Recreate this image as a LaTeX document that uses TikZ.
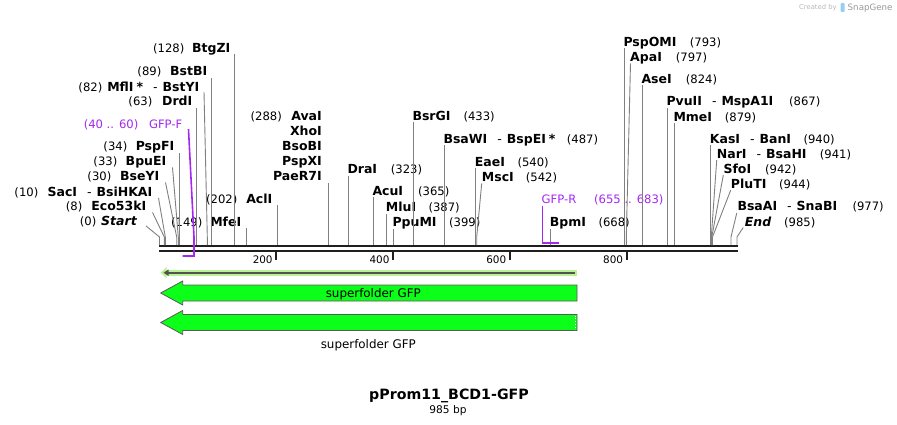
\documentclass[tikz,border=0pt]{standalone}
\usepackage{fontspec}
\setmainfont{DejaVu Sans}
\usetikzlibrary{positioning,arrows.meta,calc}
\definecolor{primerpurple}{RGB}{164,40,240}
\definecolor{featgreen}{RGB}{12,255,24}
\definecolor{halogreen}{RGB}{184,242,146}
\definecolor{logoblue}{RGB}{150,205,240}
\newcommand\sitefont{\fontsize{11.6}{13}\selectfont}
\newcommand\namefont{\fontsize{12.5}{14}\selectfont\bfseries}
\newcommand\orsep{\hspace{0.8em}{\mdseries -}\hspace{0.4em}}

\begin{document}
\begin{tikzpicture}[
  x=1pt, y=-1pt,
  font=\sitefont,
  >=Stealth,
  sitename/.style={inner sep=0pt, font=\namefont},
  sitepos/.style={inner sep=0pt, font=\sitefont},
  primertext/.style={inner sep=0pt, font=\sitefont, text=primerpurple},
  cutline/.style={draw=black!50, line width=0.9pt},
  primerline/.style={draw=primerpurple, line width=1.6pt, line join=miter},
  backbone/.style={draw=black!88, line width=2.3pt},
  tickmark/.style={draw=black!88, line width=2.2pt},
  featarrow/.style={draw=black!65, fill=featgreen, line width=0.8pt, line join=miter},
  featlabel/.style={inner sep=0pt, font=\fontsize{11.9}{14}\selectfont}
]
  \useasboundingbox (0,0) rectangle (897,425);

  % backbone and ruler
  \draw[backbone] (159.3,246.3) -- (737.7,246.3);
  \draw[backbone] (159.3,251) -- (737.7,251);
  \foreach \p in {200,400,600,800} {
    \draw[tickmark] ({159.5+0.584*\p},252) -- ({159.5+0.584*\p},260);
    \node[inner sep=0pt, anchor=base east, font=\fontsize{10.4}{12}\selectfont] (t\p) at ({156+0.584*\p},263.1) {\p};
  }

  % sites on the backbone
  \coordinate (sStart) at (159.5,245);
  \coordinate (sEco) at (164.3,245);
  \coordinate (sSacI) at (165.3,245);
  \coordinate (sBseYI) at (176.7,245);
  \coordinate (sBpuEI) at (178.3,245);
  \coordinate (sPspFI) at (179.3,245);
  \coordinate (sDrdI) at (196.3,245);
  \coordinate (sMflI) at (207.3,245);
  \coordinate (sBstBI) at (211.3,245);
  \coordinate (sBtgZI) at (234.3,245);
  \coordinate (sMfeI) at (246.6,245);
  \coordinate (sAclI) at (277.3,245);
  \coordinate (sAvaI) at (328.3,245);
  \coordinate (sDraI) at (348.3,245);
  \coordinate (sAcuI) at (373.3,245);
  \coordinate (sMluI) at (386.7,245);
  \coordinate (sPpuMI) at (393.3,245);
  \coordinate (sBsrGI) at (413.3,245);
  \coordinate (sBsaWI) at (444.3,245);
  \coordinate (sEaeI) at (475.7,245);
  \coordinate (sMscI) at (476.7,245);
  \coordinate (sBpmI) at (550.7,245);
  \coordinate (sPspOMI) at (624.3,245);
  \coordinate (sApaI) at (626.3,245);
  \coordinate (sAseI) at (642.3,245);
  \coordinate (sPvuII) at (667.3,245);
  \coordinate (sMmeI) at (674.3,245);
  \coordinate (sKasI) at (710.7,245);
  \coordinate (sNarI) at (711.3,245);
  \coordinate (sSfoI) at (711.8,245);
  \coordinate (sPluTI) at (712.5,245);
  \coordinate (sBsaAI) at (731,245);
  \coordinate (sEnd) at (737,245);

  % left-hand labels
  \node[sitename, anchor=base east] (nStart) at (137,225.9) {\itshape Start};
  \node[sitepos, anchor=base east] (pStart) at (96.5,225.9) {(0)};
  \node[sitename, anchor=base east] (nEco) at (146.5,210.9) {Eco53kI};
  \node[sitepos, anchor=base east] (pEco) at (82.5,210.9) {(8)};
  \node[sitename, anchor=base east] (nSacI) at (152.5,196.5) {SacI\orsep BsiHKAI};
  \node[sitepos, anchor=base east] (pSacI) at (38.5,196.5) {(10)};
  \node[sitename, anchor=base east] (nBseYI) at (159.5,180.9) {BseYI};
  \node[sitepos, anchor=base east] (pBseYI) at (111.5,180.9) {(30)};
  \node[sitename, anchor=base east] (nBpuEI) at (166.5,165.9) {BpuEI};
  \node[sitepos, anchor=base east] (pBpuEI) at (117.5,165.9) {(33)};
  \node[sitename, anchor=base east] (nPspFI) at (174.5,150.9) {PspFI};
  \node[sitepos, anchor=base east] (pPspFI) at (127.5,150.9) {(34)};
  \node[primertext, anchor=base east] (nGFPF) at (182.5,128.2) {GFP-F};
  \node[primertext, anchor=base east] (pGFPF) at (138.5,128.2) {(40 .. 60)};
  \node[sitename, anchor=base east] (nDrdI) at (192.5,105.9) {DrdI};
  \node[sitepos, anchor=base east] (pDrdI) at (152.5,105.9) {(63)};
  \node[sitename, anchor=base east] (nMflI) at (199.5,91.5) {MflI\hspace{3pt}*\orsep BstYI};
  \node[sitepos, anchor=base east] (pMflI) at (102.5,91.5) {(82)};
  \node[sitename, anchor=base east] (nBstBI) at (207.5,75.9) {BstBI};
  \node[sitepos, anchor=base east] (pBstBI) at (161.5,75.9) {(89)};
  \node[sitename, anchor=base east] (nBtgZI) at (230.5,52.5) {BtgZI};
  \node[sitepos, anchor=base east] (pBtgZI) at (184.5,52.5) {(128)};
  \node[sitename, anchor=base east] (nMfeI) at (241.5,226.5) {MfeI};
  \node[sitepos, anchor=base east] (pMfeI) at (202.5,226.5) {(149)};
  \node[sitename, anchor=base east] (nAclI) at (272.5,203.2) {AclI};
  \node[sitepos, anchor=base east] (pAclI) at (237.5,203.2) {(202)};
  \node[sitename, anchor=base east] (nAvaI) at (322,120.2) {AvaI};
  \node[sitepos, anchor=base east] (pAvaI) at (282,120.2) {(288)};
  \node[sitename, anchor=base east] (nXhoI) at (322,135.9) {XhoI};
  \node[sitename, anchor=base east] (nBsoBI) at (322,150.9) {BsoBI};
  \node[sitename, anchor=base east] (nPspXI) at (322,165.9) {PspXI};
  \node[sitename, anchor=base east] (nPaeR7I) at (322,180.9) {PaeR7I};

  % right-hand labels
  \node[sitename, anchor=base west] (nDraI) at (347.3,173.5) {DraI};
  \node[sitepos, anchor=base west] (pDraI) at (390.7,173.5) {(323)};
  \node[sitename, anchor=base west] (nAcuI) at (372.3,195.2) {AcuI};
  \node[sitepos, anchor=base west] (pAcuI) at (418,195.2) {(365)};
  \node[sitename, anchor=base west] (nMluI) at (385.7,211.5) {MluI};
  \node[sitepos, anchor=base west] (pMluI) at (428.3,211.5) {(387)};
  \node[sitename, anchor=base west] (nPpuMI) at (392.3,226.5) {PpuMI};
  \node[sitepos, anchor=base west] (pPpuMI) at (449,226.5) {(399)};
  \node[sitename, anchor=base west] (nBsrGI) at (412.3,120.2) {BsrGI};
  \node[sitepos, anchor=base west] (pBsrGI) at (463.3,120.2) {(433)};
  \node[sitename, anchor=base west] (nBsaWI) at (443.3,143.5) {BsaWI\orsep BspEI\hspace{3pt}*};
  \node[sitepos, anchor=base west] (pBsaWI) at (566.7,143.5) {(487)};
  \node[sitename, anchor=base west] (nEaeI) at (474.7,166.5) {EaeI};
  \node[sitepos, anchor=base west] (pEaeI) at (517.3,166.5) {(540)};
  \node[sitename, anchor=base west] (nMscI) at (481.7,181.5) {MscI};
  \node[sitepos, anchor=base west] (pMscI) at (525.7,181.5) {(542)};
  \node[primertext, anchor=base west] (nGFPR) at (541.5,203.2) {GFP-R};
  \node[primertext, anchor=base west] (pGFPR) at (594,203.2) {(655 .. 683)};
  \node[sitename, anchor=base west] (nBpmI) at (549.7,226.5) {BpmI};
  \node[sitepos, anchor=base west] (pBpmI) at (598.3,226.5) {(668)};
  \node[sitename, anchor=base west] (nPspOMI) at (623.3,46.5) {PspOMI};
  \node[sitepos, anchor=base west] (pPspOMI) at (689.7,46.5) {(793)};
  \node[sitename, anchor=base west] (nApaI) at (630,61.5) {ApaI};
  \node[sitepos, anchor=base west] (pApaI) at (675.7,61.5) {(797)};
  \node[sitename, anchor=base west] (nAseI) at (641.3,83.2) {AseI};
  \node[sitepos, anchor=base west] (pAseI) at (685.7,83.2) {(824)};
  \node[sitename, anchor=base west] (nPvuII) at (666.3,105.9) {PvuII\orsep MspA1I};
  \node[sitepos, anchor=base west] (pPvuII) at (789,105.9) {(867)};
  \node[sitename, anchor=base west] (nMmeI) at (673.3,121.5) {MmeI};
  \node[sitepos, anchor=base west] (pMmeI) at (724.7,121.5) {(879)};
  \node[sitename, anchor=base west] (nKasI) at (709.7,143.2) {KasI\orsep BanI};
  \node[sitepos, anchor=base west] (pKasI) at (803.3,143.2) {(940)};
  \node[sitename, anchor=base west] (nNarI) at (716.7,158.2) {NarI\orsep BsaHI};
  \node[sitepos, anchor=base west] (pNarI) at (819.7,158.2) {(941)};
  \node[sitename, anchor=base west] (nSfoI) at (723.3,173.2) {SfoI};
  \node[sitepos, anchor=base west] (pSfoI) at (765,173.2) {(942)};
  \node[sitename, anchor=base west] (nPluTI) at (730.7,188.2) {PluTI};
  \node[sitepos, anchor=base west] (pPluTI) at (779,188.2) {(944)};
  \node[sitename, anchor=base west] (nBsaAI) at (737.3,210.9) {BsaAI\orsep SnaBI};
  \node[sitepos, anchor=base west] (pBsaAI) at (852.3,210.9) {(977)};
  \node[sitename, anchor=base west] (nEnd) at (744.7,226.5) {\itshape End};
  \node[sitepos, anchor=base west] (pEnd) at (784,226.5) {(985)};

  % cut-site connectors, slanted
  \draw[cutline] ($(nStart.base east)+(9,0)$) -- ($(sStart)+(0,-8)$) -- (sStart);
  \draw[cutline] ($(nEco.base east)+(6,1.5)$) -- ($(sEco)+(0,-8)$) -- (sEco);
  \draw[cutline] ($(nSacI.base east)+(6,1.5)$) -- ($(sSacI)+(0,-8)$) -- (sSacI);
  \draw[cutline] ($(nBseYI.base east)+(6,1.5)$) -- ($(sBseYI)+(0,-8)$) -- (sBseYI);
  \draw[cutline] ($(nBpuEI.base east)+(6,1.5)$) -- ($(sBpuEI)+(0,-8)$) -- (sBpuEI);
  \draw[cutline] ($(nMflI.base east)+(4.5,0.5)$) -- ($(sMflI)+(0,-8)$) -- (sMflI);
  \draw[cutline] ($(nMscI.base west)+(0,2)$) -- ($(sMscI)+(0,-8)$) -- (sMscI);
  \draw[cutline] ($(nApaI.base west)+(0.5,2)$) -- ($(sApaI)+(0,-8)$) -- (sApaI);
  \draw[cutline] ($(nNarI.base west)+(0,2)$) -- ($(sNarI)+(0,-8)$) -- (sNarI);
  \draw[cutline] ($(nSfoI.base west)+(0,2)$) -- ($(sSfoI)+(0,-8)$) -- (sSfoI);
  \draw[cutline] ($(nPluTI.base west)+(0,2)$) -- ($(sPluTI)+(0,-8)$) -- (sPluTI);
  \draw[cutline] ($(nBsaAI.base west)+(-0.5,2)$) -- ($(sBsaAI)+(0,-8)$) -- (sBsaAI);
  \draw[cutline] ($(nEnd.base west)+(-1.5,1)$) -- ($(sEnd)+(0,-8)$) -- (sEnd);

  % cut-site connectors, straight
  \draw[cutline] (sPspFI) -- ($(sPspFI |- nPspFI.base)+(0,2)$);
  \draw[cutline] (sDrdI) -- ($(sDrdI |- nDrdI.base)+(0,2)$);
  \draw[cutline] (sBstBI) -- ($(sBstBI |- nBstBI.base)+(0,2)$);
  \draw[cutline] (sBtgZI) -- ($(sBtgZI |- nBtgZI.base)+(0,2)$);
  \draw[cutline] (sMfeI) -- ($(sMfeI |- nMfeI.base)+(0,1)$);
  \draw[cutline] (sAclI) -- ($(sAclI |- nAclI.base)+(0,2)$);
  \draw[cutline] (sAvaI) -- ($(sAvaI |- nPaeR7I.base)+(0,2)$);
  \draw[cutline] (sDraI) -- ($(sDraI |- nDraI.base)+(0,2)$);
  \draw[cutline] (sAcuI) -- ($(sAcuI |- nAcuI.base)+(0,2)$);
  \draw[cutline] (sMluI) -- ($(sMluI |- nMluI.base)+(0,2)$);
  \draw[cutline] (sPpuMI) -- ($(sPpuMI |- nPpuMI.base)+(0,2)$);
  \draw[cutline] (sBsrGI) -- ($(sBsrGI |- nBsrGI.base)+(0,2)$);
  \draw[cutline] (sBsaWI) -- ($(sBsaWI |- nBsaWI.base)+(0,2)$);
  \draw[cutline] (sEaeI) -- ($(sEaeI |- nEaeI.base)+(0,2)$);
  \draw[cutline] (sBpmI) -- ($(sBpmI |- nBpmI.base)+(0,2)$);
  \draw[cutline] (sPspOMI) -- ($(sPspOMI |- nPspOMI.base)+(0,2)$);
  \draw[cutline] (sAseI) -- ($(sAseI |- nAseI.base)+(0,2)$);
  \draw[cutline] (sPvuII) -- ($(sPvuII |- nPvuII.base)+(0,2)$);
  \draw[cutline] (sMmeI) -- ($(sMmeI |- nMmeI.base)+(0,2)$);
  \draw[cutline] (sKasI) -- ($(sKasI |- nKasI.base)+(0,2)$);

  % primers
  \coordinate (fwdA) at (182.5,256);
  \coordinate (fwdB) at (194,256);
  \draw[primerline] ($(nGFPF.base east)+(6,1)$) -- ($(fwdB)+(0,-19)$) -- (fwdB) -- (fwdA);
  \coordinate (revA) at (542.3,242.7);
  \coordinate (revB) at (559,242.7);
  \draw[primerline] ($(revA |- nGFPR.base)+(0,2.5)$) -- (revA) -- (revB);

  % translation and features
  \draw[draw=halogreen, line width=6pt, -{Triangle[length=6pt,width=11pt]}] (576.5,272.7) -- (160.7,272.7);
  \draw[draw=black!68, line width=2pt, -{Triangle[length=5pt,width=6pt]}] (575,272.7) -- (163.5,272.7);
  \draw[featarrow] (577,285) -- (182.7,285) -- (182.7,281) -- (160.7,293) -- (182.7,305) -- (182.7,301) -- (577,301) -- cycle;
  \node[featlabel, anchor=base] (gfpA) at (373.3,297.2) {superfolder GFP};
  \draw[featarrow] (577,314.5) -- (182.7,314.5) -- (182.7,310.5) -- (160.7,322.5) -- (182.7,334.5) -- (182.7,330.5) -- (577,330.5) -- cycle;
  \draw[white, dotted, line width=0.8pt] (575.8,315.5) -- (575.8,329.5);
  \node[featlabel, anchor=base] (gfpB) at (368.3,348.4) {superfolder GFP};

  % title
  \node[inner sep=0pt, anchor=base, font=\fontsize{14.2}{16}\selectfont\bfseries] (title) at (449,399.4) {pProm11\_BCD1-GFP};
  \node[inner sep=0pt, anchor=base, font=\fontsize{10.6}{12}\selectfont] (length) at (448,413.1) {985 bp};

  % credit
  \node[inner sep=0pt, anchor=base west, text=black!28, font=\fontsize{6.8}{8}\selectfont] (cCreated) at (799,9.6) {Created by};
  \node[inner sep=0pt, fill=logoblue, minimum width=4pt, minimum height=9pt, rounded corners=1pt] (cLogo) at (842.5,7.5) {};
  \node[inner sep=0pt, anchor=base west, text=black!40, font=\fontsize{8.7}{10}\selectfont] (cSnapGene) at (847.5,10.6) {SnapGene};
\end{tikzpicture}
\end{document}
